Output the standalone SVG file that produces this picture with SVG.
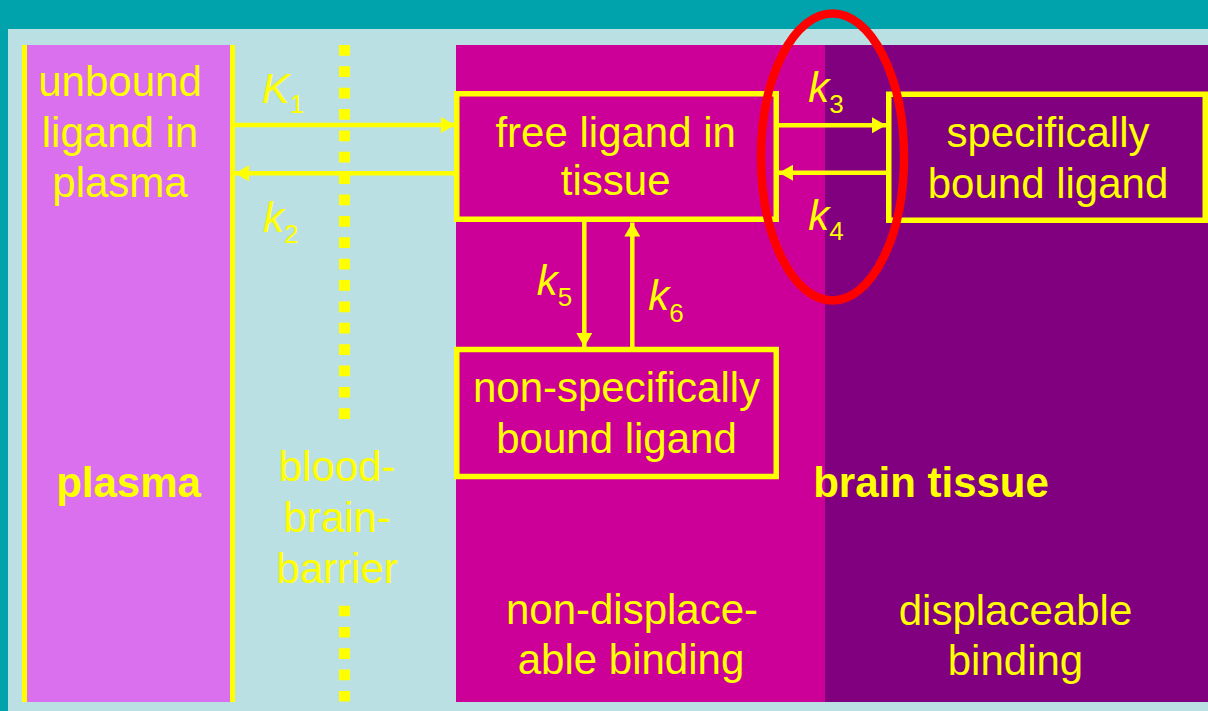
<svg xmlns="http://www.w3.org/2000/svg" width="1208" height="711" viewBox="0 0 1208 711">
  <style>
    text { font-family: "Liberation Sans", Arial, sans-serif; fill: #FFFF00; font-size: 42px; }
    .c { text-anchor: middle; }
    .b { font-weight: bold; }
    .k { font-style: italic; }
    .sub { font-size: 26px; font-style: normal; }
    .box { fill: none; stroke: #FFFF00; stroke-width: 5.5; }
    .flow { stroke: #FFFF00; stroke-width: 4.5; fill: none; }
    .dots { stroke: #FFFF00; stroke-width: 11; }
  </style>
  <defs>
    <marker id="head" viewBox="0 0 14 16" refX="14" refY="8" markerWidth="14" markerHeight="16" markerUnits="userSpaceOnUse" orient="auto">
      <path d="M0,0 L14,8 L0,16 Z" fill="#FFFF00"/>
    </marker>
  </defs>

  <!-- frame and compartments -->
  <rect x="0" y="0" width="1208" height="711" fill="#00A2AC"/>
  <rect x="8" y="29" width="1200" height="682" fill="#BBE0E3"/>
  <rect x="22" y="45" width="213" height="657" fill="#DA70EE"/>
  <rect x="456" y="45" width="369" height="657" fill="#CC0099"/>
  <rect x="825" y="45" width="383" height="657" fill="#800080"/>

  <!-- plasma walls -->
  <line x1="24.5" y1="45" x2="24.5" y2="702" stroke="#FFFF00" stroke-width="5"/>
  <line x1="232.5" y1="45" x2="232.5" y2="702" stroke="#FFFF00" stroke-width="5"/>

  <!-- blood-brain barrier -->
  <line class="dots" x1="344.5" y1="45" x2="344.5" y2="419" stroke-dasharray="10.7 10.67"/>
  <line class="dots" x1="344.5" y1="605.7" x2="344.5" y2="701.7" stroke-dasharray="10.6 10.7"/>

  <!-- region labels -->
  <text class="c" x="120" y="96">unbound</text>
  <text class="c" x="120" y="147">ligand in</text>
  <text class="c" x="120" y="197">plasma</text>
  <text class="c b" x="128.5" y="497">plasma</text>
  <text class="c" x="337" y="481">blood-</text>
  <text class="c" x="337" y="532">brain-</text>
  <text class="c" x="337" y="583">barrier</text>
  <text class="c b" x="931" y="497">brain tissue</text>
  <text class="c" x="632" y="624">non-displace-</text>
  <text class="c" x="631" y="674">able binding</text>
  <text class="c" x="1015.5" y="625">displaceable</text>
  <text class="c" x="1015.5" y="675">binding</text>

  <!-- nodes -->
  <g id="free-ligand">
    <rect class="box" x="456.75" y="93.75" width="319.5" height="125.5"/>
    <text class="c" x="615.7" y="147">free ligand in</text>
    <text class="c" x="615.7" y="195">tissue</text>
  </g>
  <g id="specific-bound">
    <rect class="box" x="888.75" y="94.25" width="316.5" height="126"/>
    <text class="c" x="1048" y="147">specifically</text>
    <text class="c" x="1048" y="198">bound ligand</text>
  </g>
  <g id="nonspecific-bound">
    <rect class="box" x="456.75" y="349.5" width="319.5" height="127"/>
    <text class="c" x="616.5" y="402">non-specifically</text>
    <text class="c" x="616.5" y="453">bound ligand</text>
  </g>

  <!-- connectors -->
  <g id="connectors">
    <line class="flow" x1="235" y1="125" x2="455" y2="125" marker-end="url(#head)"/>
    <line class="flow" x1="454" y1="173.3" x2="235" y2="173.3" marker-end="url(#head)"/>
    <line class="flow" x1="779" y1="125.3" x2="886" y2="125.3" marker-end="url(#head)"/>
    <line class="flow" x1="886" y1="172.7" x2="779" y2="172.7" marker-end="url(#head)"/>
    <line class="flow" x1="584.3" y1="222" x2="584.3" y2="347" marker-end="url(#head)"/>
    <line class="flow" x1="632.3" y1="347" x2="632.3" y2="222.5" marker-end="url(#head)"/>
  </g>

  <!-- rate constants -->
  <text class="k" x="261.7" y="102.7">K<tspan class="sub" dy="10">1</tspan></text>
  <text class="k" x="263" y="231.7">k<tspan class="sub" dy="11">2</tspan></text>
  <text class="k" x="808.3" y="101.7">k<tspan class="sub" dy="11">3</tspan></text>
  <text class="k" x="808.3" y="230">k<tspan class="sub" dy="10">4</tspan></text>
  <text class="k" x="536.7" y="295">k<tspan class="sub" dy="11">5</tspan></text>
  <text class="k" x="648.3" y="310">k<tspan class="sub" dy="11.5">6</tspan></text>

  <!-- highlight around k3/k4 exchange -->
  <ellipse cx="832.5" cy="157" rx="71.5" ry="143.5" fill="none" stroke="#FF0000" stroke-width="8.5"/>
</svg>
